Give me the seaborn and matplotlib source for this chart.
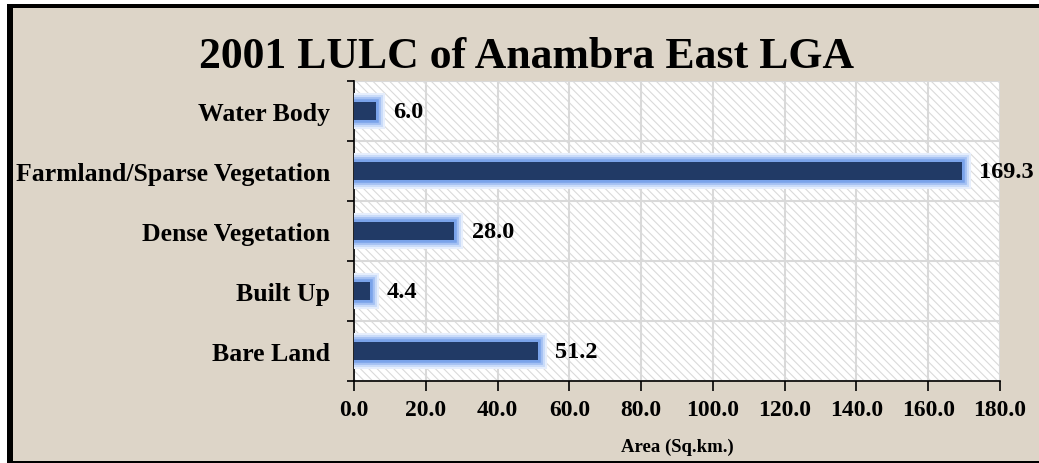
import matplotlib
matplotlib.use("Agg")
import matplotlib.pyplot as plt
import matplotlib.patheffects as pe
from matplotlib.patches import Rectangle
import seaborn as sns
import pandas as pd

categories = ["Water Body", "Farmland/Sparse Vegetation", "Dense Vegetation", "Built Up", "Bare Land"]
areas = [6.0, 169.3, 28.0, 4.4, 51.2]
xticks = [0, 20, 40, 60, 80, 100, 120, 140, 160, 180]

sns.set_theme(style="white")
plt.rcParams['font.family'] = ['Liberation Serif', 'DejaVu Serif']
plt.rcParams['hatch.color'] = '#d6d6d6'
plt.rcParams['hatch.linewidth'] = 0.8
for k in ['text.color', 'axes.labelcolor', 'xtick.color', 'ytick.color']:
    plt.rcParams[k] = 'black'

bg = '#ddd5c8'
fig = plt.figure(figsize=(10.39, 4.64), dpi=100, facecolor=bg)
ax = fig.add_axes([354/1039, 1-382/464, 646/1039, 300/464])
ax.set_facecolor('white')

df = pd.DataFrame({"cat": categories, "area": areas})
sns.barplot(data=df, y="cat", x="area", orient="h", color="#213a66",
            width=0.29, ax=ax, saturation=1, zorder=3)

glow = [pe.withStroke(linewidth=13, foreground='#e6eefc'),
        pe.withStroke(linewidth=10, foreground='#c9dbf9'),
        pe.withStroke(linewidth=7, foreground='#a3c0f3'),
        pe.withStroke(linewidth=4, foreground='#7aa3ea'),
        pe.Normal()]
for p in ax.patches:
    p.set_path_effects(glow)
    p.set_edgecolor('none')

# hatched background
ax.add_patch(Rectangle((0, 0), 1, 1, transform=ax.transAxes, facecolor='white',
                       hatch='\\\\\\\\', edgecolor='#dadada', linewidth=0, zorder=0))

ax.set_xlim(0, 180)
ax.set_ylim(4.5, -0.5)
ax.set_xticks(xticks)
ax.set_xticklabels([f"{v:.1f}" for v in xticks], fontsize=17, fontweight='bold')
ax.set_yticks(range(len(categories)))
ax.set_yticklabels(categories, fontsize=18.5, fontweight='bold')
ax.tick_params(axis='y', which='major', left=False, length=0, pad=17)
ax.tick_params(axis='x', bottom=True, length=7, width=1.2, color='black', direction='out', pad=6)
ax.set_yticks([i - 0.5 for i in range(len(categories) + 1)], minor=True)
ax.tick_params(axis='y', which='minor', left=True, length=5, width=1.2, color='black', direction='out')

ax.grid(True, which='major', axis='x', color='#d9d9d9', linewidth=1.5, zorder=1)
ax.grid(True, which='minor', axis='y', color='#d9d9d9', linewidth=1.5, zorder=1)
ax.set_axisbelow(True)

for s in ['top', 'right']:
    ax.spines[s].set_visible(False)
for s in ['left', 'bottom']:
    ax.spines[s].set_color('black')
    ax.spines[s].set_linewidth(1.2)

for i, v in enumerate(areas):
    ax.text(v + 4.8, i, f"{v:.1f}", va='center', ha='left', fontsize=17.5,
            fontweight='bold', color='black', zorder=5)

ax.set_xlabel("Area (Sq.km.)", fontsize=13.5, fontweight='bold', labelpad=13)
ax.set_ylabel("")
fig.text(527/1039, 1-57/464, "2001 LULC of Anambra East LGA", ha='center', va='center',
         fontsize=31.5, fontweight='bold', color='black')

# picture frame
fig.patches.append(Rectangle((0, 0), 7/1039, 1, transform=fig.transFigure, facecolor='white', edgecolor='none'))
fig.patches.append(Rectangle((7/1039, 0), 6/1039, 1, transform=fig.transFigure, facecolor='black', edgecolor='none'))
fig.patches.append(Rectangle((7/1039, 1-9/464), 1 - 7/1039, 4/464, transform=fig.transFigure, facecolor='black', edgecolor='none'))
fig.patches.append(Rectangle((0, 1-5/464), 1, 5/464, transform=fig.transFigure, facecolor='white', edgecolor='none'))
fig.patches.append(Rectangle((7/1039, 0), 1 - 7/1039, 2/464, transform=fig.transFigure, facecolor='black', edgecolor='none'))

fig.savefig("out.png", dpi=100, facecolor=bg)
